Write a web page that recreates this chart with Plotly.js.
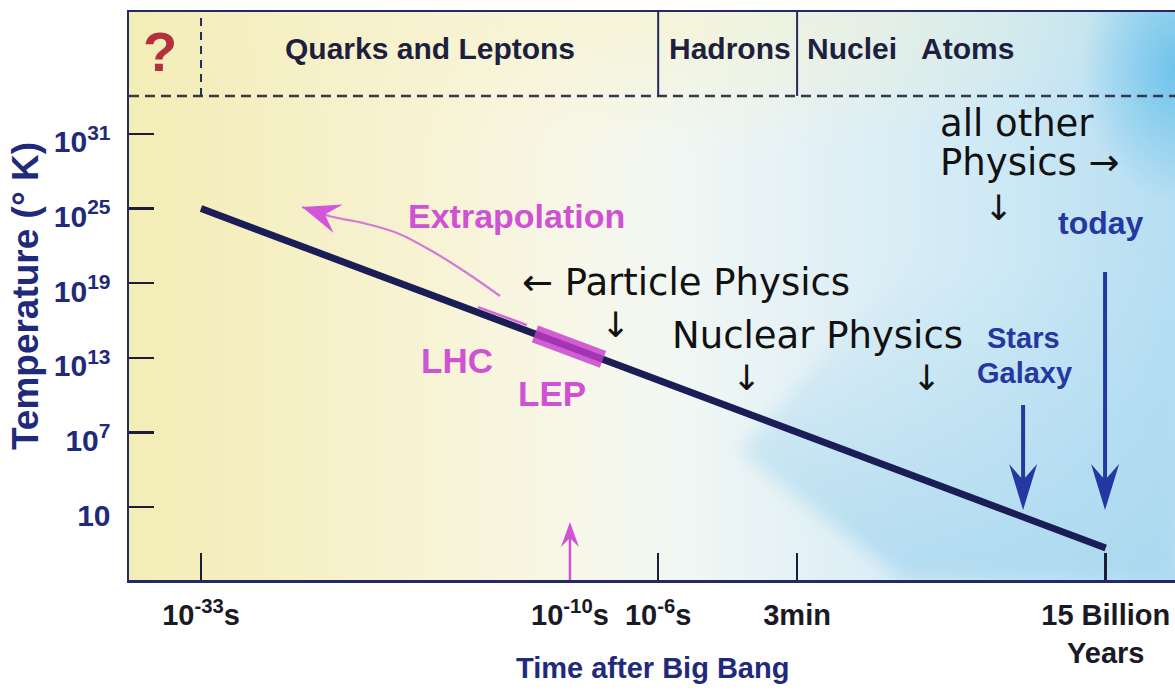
<!DOCTYPE html>
<html>
<head>
<meta charset="utf-8">
<script src="https://cdn.plot.ly/plotly-3.0.1.min.js"></script>
<style>
html, body { margin: 0; padding: 0; background: #ffffff; }
#chart { width: 1175px; height: 691px; }
</style>
</head>
<body>
<div id="chart"></div>
<script>
// ---- time axis: schematic log10(t / s) position of each labelled epoch ----
const epochPos = [-33, -10, -4.5, 4.16, 23.4];
const epochLabels = ['10<sup>-33</sup>s', '10<sup>-10</sup>s', '10<sup>-6</sup>s', '3min', '15 Billion<br>Years'];

// ---- temperature axis: log10(T / K) ----
const tempTickExp = [31, 25, 19, 13, 7, 1];
const tempTickLabels = ['10<sup>31</sup>', '10<sup>25</sup>', '10<sup>19</sup>', '10<sup>13</sup>', '10<sup>7</sup>', '10'];

// ---- cooling of the universe, 10^-33 s to today ----
const coolTime = [-33, 23.4];
const coolTempExp = [25, -2.3];

// ---- collider reach along the curve ----
const lepTime = [-12.18, -7.94];
const lepTempExp = [14.92, 12.87];
const lhcTime = [-15.73, -12.68];
const lhcTempExp = [17.08, 15.63];

// ---- extrapolation back toward earlier times ----
const extrapTime = [-14.36, -16.42, -18.72, -20.78, -22.90, -24.77, -26.70];
const extrapTempExp = [17.97, 19.82, 21.67, 23.04, 23.84, 24.32, 25.13];

// ---- eras in the top band ----
const eraBoundary = [-33, -4.5, 4.16];
const eraBandExp = 34.06;
const eraNames = ['Quarks and Leptons', 'Hadrons', 'Nuclei', 'Atoms'];
const eraCentre = [-18.72, -0.02, 7.59, 14.76];

// ---- pointer arrows: [time, tail log10 T, tip log10 T] ----
const starsArrow = [18.25, 9.2, 0.76];
const todayArrow = [23.36, 19.9, 0.76];
const lepPointer = [-10, -4.87, -0.2];

// ---- axis ranges ----
const xRange = [-37.49, 27.72];
const yRange = [-4.87, 40.81];

const W = 1175, H = 691;
const M = { l: 129, r: 0, t: 12, b: 111 };
const plotW = W - M.l - M.r, plotH = H - M.t - M.b;
const pxX = plotW / (xRange[1] - xRange[0]);
const pxY = plotH / (yRange[1] - yRange[0]);

// filled barbed arrowhead (sizes in screen px), tip given in data units
function arrowHead(tipX, tipY, fromX, fromY, len, half, notch, color) {
  let dx = (tipX - fromX) * pxX, dy = -(tipY - fromY) * pxY;
  const n = Math.hypot(dx, dy); dx /= n; dy /= n;
  const qx = -dy, qy = dx;
  const pts = [[0, 0],
    [-len * dx + half * qx, -len * dy + half * qy],
    [-notch * dx, -notch * dy],
    [-len * dx - half * qx, -len * dy - half * qy]];
  const path = pts.map((p, i) => (i ? 'L' : 'M') + (tipX + p[0] / pxX).toFixed(4) + ',' + (tipY - p[1] / pxY).toFixed(4)).join(' ') + ' Z';
  return { type: 'path', xref: 'x', yref: 'y', path: path, fillcolor: color, line: { width: 0 }, layer: 'above' };
}

// ---- background wash: pale yellow (early) through white to blue (late) ----
const bgSvg = `<svg xmlns='http://www.w3.org/2000/svg' width='${plotW}' height='${plotH}' viewBox='0 0 ${plotW} ${plotH}' preserveAspectRatio='none'>
<defs>
<linearGradient id='base' x1='0' y1='0' x2='1' y2='0'>
<stop offset='0' stop-color='#f3edb6'/>
<stop offset='0.12' stop-color='#f5efc2'/>
<stop offset='0.28' stop-color='#f7f3d3'/>
<stop offset='0.42' stop-color='#f8f7e8'/>
<stop offset='0.53' stop-color='#f1f7f4'/>
<stop offset='0.67' stop-color='#e1f0f6'/>
<stop offset='0.83' stop-color='#cee9f5'/>
<stop offset='1' stop-color='#b6def2'/>
</linearGradient>
<radialGradient id='topY' cx='0.5' cy='0' r='0.5' gradientTransform='translate(0.5 0) scale(1 0.5) translate(-0.5 0)'>
<stop offset='0' stop-color='#f6f2c8' stop-opacity='0.6'/>
<stop offset='1' stop-color='#f6f2c8' stop-opacity='0'/>
</radialGradient>
<radialGradient id='cornerB' cx='1' cy='0.1' r='0.09' gradientTransform='translate(1 0.1) scale(1 2.6) translate(-1 -0.1)'>
<stop offset='0' stop-color='#6cc2ea' stop-opacity='0.95'/>
<stop offset='1' stop-color='#6cc2ea' stop-opacity='0'/>
</radialGradient>
<linearGradient id='lowB' x1='0' y1='0' x2='0' y2='1'>
<stop offset='0' stop-color='#a8d7ef' stop-opacity='0'/>
<stop offset='1' stop-color='#a8d7ef' stop-opacity='0.8'/>
</linearGradient>
<filter id='soft' x='-0.3' y='-0.3' width='1.6' height='1.6'><feGaussianBlur stdDeviation='9'/></filter>
</defs>
<rect x='0' y='0' width='${plotW}' height='${plotH}' fill='url(#base)'/>
<rect x='0' y='0' width='${plotW}' height='${plotH}' fill='url(#topY)'/>
<polygon points='610,440 776,568 1046,568 1046,250 780,250' fill='url(#lowB)' filter='url(#soft)'/>
<rect x='0' y='0' width='${plotW}' height='${plotH}' fill='url(#cornerB)'/>
</svg>`;
const bgUri = 'data:image/svg+xml;charset=utf-8,' + encodeURIComponent(bgSvg);

const NAVY = '#1f2a7a';
const LINE = '#1b1e56';
const MAG = '#cf52d2';
const BLUE = '#2537a0';
const BOLD = 'Liberation Sans, Arial, Helvetica, sans-serif';
const SANS = 'DejaVu Sans, sans-serif';

const traces = [
  { x: coolTime, y: coolTempExp, mode: 'lines', line: { color: LINE, width: 7 }, hoverinfo: 'skip' },
  { x: lepTime, y: lepTempExp, mode: 'lines', line: { color: 'rgba(198,58,204,0.8)', width: 18 }, hoverinfo: 'skip' },
  { x: lhcTime, y: lhcTempExp, mode: 'lines', line: { color: '#d466d8', width: 2.5 }, hoverinfo: 'skip' },
  { x: extrapTime, y: extrapTempExp, mode: 'lines', line: { color: '#d678da', width: 2.2, shape: 'spline', smoothing: 0.8 }, hoverinfo: 'skip' }
];

const shapes = [];
// era band separator and boundaries
shapes.push({ type: 'line', xref: 'x', yref: 'y', x0: xRange[0], x1: xRange[1], y0: eraBandExp, y1: eraBandExp,
  line: { color: '#35384f', width: 2.5, dash: '10px,6px' } });
eraBoundary.forEach((b, i) => {
  shapes.push({ type: 'line', xref: 'x', yref: 'y', x0: b, x1: b, y0: eraBandExp, y1: yRange[1],
    line: { color: '#262a5a', width: 2, dash: i === 0 ? '8px,6px' : 'solid' } });
});
// blue pointers
[starsArrow, todayArrow].forEach(a => {
  shapes.push({ type: 'line', xref: 'x', yref: 'y', x0: a[0], x1: a[0], y0: a[1], y1: a[2] + 2,
    line: { color: BLUE, width: 4 } });
  shapes.push(arrowHead(a[0], a[2], a[0], a[1], 46, 14, 30, BLUE));
});
// magenta pointer from the axis
shapes.push({ type: 'line', xref: 'x', yref: 'y', x0: lepPointer[0], x1: lepPointer[0], y0: lepPointer[1], y1: lepPointer[2] - 1,
  line: { color: MAG, width: 2.5 } });
shapes.push(arrowHead(lepPointer[0], lepPointer[2], lepPointer[0], lepPointer[1], 25, 9, 16, MAG));
// extrapolation arrowhead
const nE = extrapTime.length;
shapes.push(arrowHead(extrapTime[nE - 1], extrapTempExp[nE - 1], extrapTime[nE - 2], extrapTempExp[nE - 2], 38, 15, 24, '#d456d8'));

const ann = [];
function label(text, x, y, size, color, family, weight, xanchor) {
  ann.push({ text: text, x: x, y: y, xref: 'x', yref: 'y', showarrow: false,
    xanchor: xanchor || 'center', yanchor: 'middle',
    font: { family: family, size: size, color: color, weight: weight || 'normal' } });
}
// top band
label('?', -35.56, 37.63, 56, '#b3303f', BOLD, 'bold');
eraNames.forEach((n, i) => label(n, eraCentre[i], 37.88, 30, '#1e1f3e', BOLD, 'bold'));
// collider / extrapolation labels
label('Extrapolation', -13.36, 24.41, 34, MAG, BOLD, 'bold');
label('LHC', -17.04, 12.82, 35, MAG, BOLD, 'bold');
label('LEP', -11.09, 10.09, 35, MAG, BOLD, 'bold');
// physics regimes
label('\u2190 Particle Physics', -2.76, 19.06, 37, '#111111', SANS);
label('\u2193', -7.19, 15.64, 35, '#111111', SANS);
label('Nuclear Physics', 5.44, 14.83, 37, '#111111', SANS);
label('\u2193', 0.98, 11.38, 35, '#111111', SANS);
label('\u2193', 12.2, 11.38, 35, '#111111', SANS);
label('all other', 12.95, 31.88, 37, '#111111', SANS, 'normal', 'left');
label('Physics \u2192', 12.95, 28.67, 37, '#111111', SANS, 'normal', 'left');
label('\u2193', 16.69, 25.05, 35, '#111111', SANS);
// late universe
label('today', 23.11, 23.87, 32, BLUE, BOLD, 'bold');
label('Stars', 18.25, 14.61, 29, BLUE, BOLD, 'bold');
label('Galaxy', 18.31, 11.79, 29, BLUE, BOLD, 'bold');
// x axis title
ann.push({ text: 'Time after Big Bang', xref: 'paper', yref: 'paper', x: 0.5, y: -(668 - 580) / plotH,
  xanchor: 'center', yanchor: 'middle', showarrow: false,
  font: { family: BOLD, size: 29, color: NAVY, weight: 'bold' } });

const layout = {
  width: W, height: H,
  margin: M,
  paper_bgcolor: '#ffffff',
  plot_bgcolor: 'rgba(0,0,0,0)',
  showlegend: false,
  xaxis: {
    range: xRange, type: 'linear', showgrid: false, zeroline: false,
    showline: true, linecolor: '#242a66', linewidth: 2.5, mirror: true,
    ticks: 'inside', ticklen: 27, tickwidth: 2.5, tickcolor: '#1d1d3a',
    tickvals: epochPos, ticktext: epochLabels,
    tickfont: { family: BOLD, size: 29, color: '#1a1a26', weight: 'bold' },
    ticklabelstandoff: 8
  },
  yaxis: {
    range: yRange, type: 'linear', showgrid: false, zeroline: false,
    showline: true, linecolor: '#242a66', linewidth: 2.5,
    ticks: 'inside', ticklen: 25, tickwidth: 2.5, tickcolor: '#1d1d3a',
    tickvals: tempTickExp, ticktext: tempTickLabels,
    tickfont: { family: BOLD, size: 30, color: NAVY, weight: 'bold' },
    ticklabelstandoff: 10, ticklabelshift: 8,
    title: { text: 'Temperature (\u00b0 K)', font: { family: BOLD, size: 37, color: NAVY, weight: 'bold' }, standoff: 4 }
  },
  shapes: shapes,
  annotations: ann,
  images: [{ source: bgUri, xref: 'paper', yref: 'paper', x: 0, y: 1, sizex: 1, sizey: 1,
    xanchor: 'left', yanchor: 'top', sizing: 'stretch', layer: 'below' }]
};

Plotly.newPlot('chart', traces, layout, { displayModeBar: false, staticPlot: true });
</script>
</body>
</html>
